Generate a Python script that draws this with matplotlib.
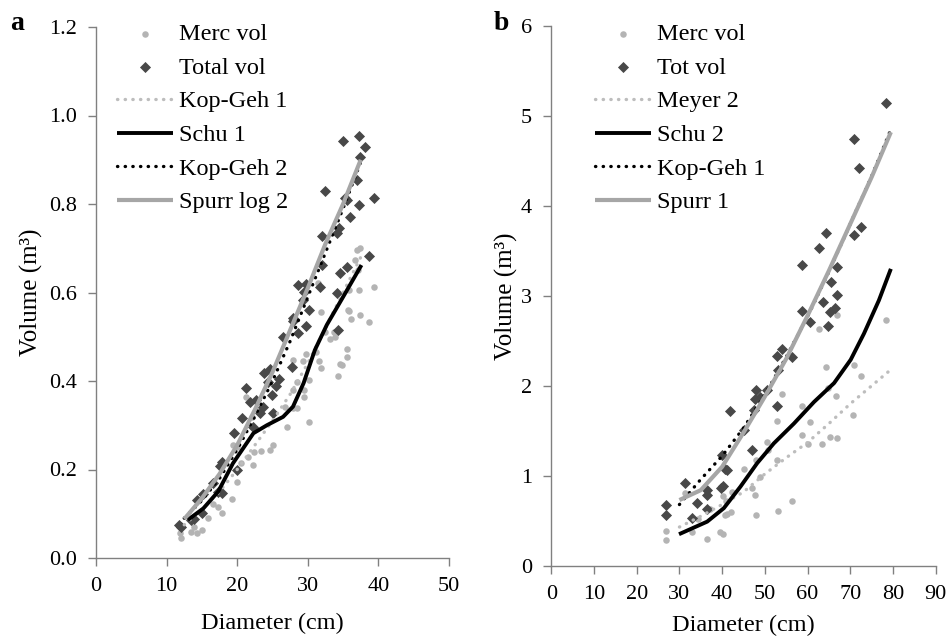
import matplotlib
matplotlib.use('Agg')
import matplotlib.pyplot as plt

plt.rcParams['font.family'] = ['Liberation Serif', 'DejaVu Serif']

# ---- panel a data ----
a_merc_d = [37.4, 37.0, 36.7, 37.1, 37.3, 39.4, 35.8, 31.5, 31.9, 35.8, 37.4, 36.1, 38.6, 32.4, 33.7,
            33.9, 33.1, 35.5, 35.6, 31.1, 27.9, 29.3, 31.6, 31.9, 34.9, 34.5, 34.3, 30.2, 28.5, 27.9,
            29.4, 29.4, 30.1, 28.5, 27.9, 26.8, 27.0, 25.1, 24.6, 23.4, 22.4, 21.6, 22.3, 20.6, 21.3,
            22.1, 23.0, 20.0, 19.3, 17.8, 17.3, 15.9, 15.0, 14.3, 13.4, 13.9, 11.9, 12.1, 16.6, 20.0,
            19.4, 35.7, 29.8]
a_merc_v = [0.700, 0.697, 0.674, 0.651, 0.606, 0.613, 0.606, 0.621, 0.557, 0.559, 0.549, 0.540, 0.534, 0.511, 0.511,
            0.499, 0.495, 0.472, 0.455, 0.466, 0.447, 0.446, 0.446, 0.430, 0.436, 0.438, 0.411, 0.402, 0.398, 0.380,
            0.380, 0.364, 0.308, 0.339, 0.339, 0.342, 0.297, 0.256, 0.244, 0.242, 0.240, 0.229, 0.210, 0.214, 0.364,
            0.319, 0.334, 0.172, 0.133, 0.101, 0.116, 0.090, 0.063, 0.056, 0.059, 0.071, 0.056, 0.045, 0.122, 0.251,
            0.256, 0.560, 0.462]

a_tot_d = [37.3, 35.0, 38.1, 37.4, 32.4, 39.4, 37.2, 36.9, 35.2, 35.6, 36.0, 32.0, 34.2, 34.4, 38.6,
           32.0, 35.5, 34.6, 34.2, 31.7, 28.6, 29.7, 29.4, 27.9, 29.3, 30.1, 27.9, 29.7, 28.6, 26.5,
           34.3, 27.8, 23.8, 24.6, 25.9, 24.3, 25.5, 21.3, 21.8, 22.7, 24.9, 23.7, 23.3, 25.1, 20.7,
           22.3, 19.6, 20.0, 17.8, 17.6, 17.9, 17.3, 14.3, 15.0, 13.9, 13.5, 12.1, 11.8, 15.1, 16.6]
a_tot_v = [0.954, 0.943, 0.929, 0.906, 0.830, 0.813, 0.798, 0.854, 0.813, 0.808, 0.771, 0.728, 0.734, 0.746, 0.683,
           0.662, 0.658, 0.644, 0.599, 0.612, 0.617, 0.619, 0.601, 0.542, 0.583, 0.560, 0.536, 0.524, 0.508, 0.499,
           0.515, 0.432, 0.419, 0.427, 0.404, 0.398, 0.389, 0.385, 0.353, 0.357, 0.368, 0.342, 0.327, 0.327, 0.316,
           0.295, 0.283, 0.199, 0.217, 0.208, 0.148, 0.150, 0.131, 0.101, 0.088, 0.086, 0.071, 0.075, 0.145, 0.169]

a_fit_d = [12.5, 15.0, 17.5, 20.0, 22.5, 25.0, 27.5, 30.0, 32.5, 35.0, 37.5]
a_kopgeh1 = [0.075, 0.11, 0.15, 0.20, 0.255, 0.31, 0.37, 0.44, 0.52, 0.60, 0.68]
a_kopgeh2 = [0.09, 0.13, 0.18, 0.245, 0.32, 0.40, 0.49, 0.59, 0.69, 0.79, 0.895]
a_spurr = [0.088, 0.135, 0.19, 0.255, 0.335, 0.42, 0.515, 0.61, 0.71, 0.80, 0.90]
a_schu_d = [13.0, 15.2, 17.3, 19.4, 22.3, 24.2, 26.5, 27.9, 29.4, 31.0, 32.7, 35.0, 37.6]
a_schu_v = [0.086, 0.112, 0.150, 0.214, 0.282, 0.300, 0.319, 0.342, 0.395, 0.470, 0.527, 0.590, 0.662]

# ---- panel b data ----
b_merc_d = [66.8, 78.3, 62.7, 70.9, 64.2, 72.4, 64.9, 66.6, 53.9, 58.6, 52.8, 60.6, 70.7, 58.8, 65.3,
            67.0, 60.2, 63.3, 50.6, 52.8, 47.9, 45.0, 48.9, 46.9, 47.7, 42.2, 40.3, 31.2, 37.2, 42.0,
            40.7, 47.9, 56.4, 53.1, 34.3, 33.0, 26.9, 26.9, 36.5, 39.5, 40.3, 50.7, 41.1, 40.9]
b_merc_v = [2.79, 2.73, 2.63, 2.23, 2.21, 2.11, 1.98, 1.89, 1.91, 1.78, 1.61, 1.60, 1.67, 1.45, 1.43,
            1.42, 1.35, 1.35, 1.37, 1.18, 1.18, 1.08, 0.99, 0.86, 0.79, 0.82, 0.77, 0.81, 0.63, 0.60,
            0.56, 0.56, 0.72, 0.61, 0.52, 0.37, 0.39, 0.29, 0.30, 0.37, 0.35, 1.29, 0.58, 0.72]

b_tot_d = [78.3, 70.9, 72.0, 72.4, 70.9, 64.2, 62.7, 58.8, 67.0, 65.6, 67.0, 63.5, 58.8, 66.4, 65.3,
           60.6, 64.9, 52.8, 53.9, 53.1, 56.4, 52.8, 47.9, 47.7, 48.9, 50.6, 41.8, 45.0, 47.1, 40.0,
           40.7, 31.2, 36.5, 36.4, 39.7, 40.3, 34.2, 36.4, 33.0, 26.9, 26.9, 47.4, 41.1]
b_tot_v = [5.14, 4.74, 4.42, 3.77, 3.68, 3.70, 3.53, 3.34, 3.32, 3.15, 3.01, 2.93, 2.83, 2.86, 2.82,
           2.71, 2.66, 2.33, 2.41, 2.18, 2.32, 1.78, 1.95, 1.85, 1.88, 1.95, 1.72, 1.51, 1.29, 1.23,
           1.07, 0.92, 0.84, 0.79, 0.86, 0.89, 0.70, 0.63, 0.53, 0.67, 0.56, 1.73, 1.06]

b_fit_d = [30.0, 35.0, 40.0, 45.0, 50.0, 55.0, 60.0, 65.0, 70.0, 75.0, 79.5]
b_meyer = [0.43, 0.55, 0.68, 0.82, 1.02, 1.20, 1.37, 1.58, 1.80, 2.00, 2.18]
b_kopgeh1 = [0.68, 0.96, 1.22, 1.53, 1.90, 2.32, 2.77, 3.27, 3.80, 4.33, 4.85]
b_spurr = [0.73, 0.84, 1.10, 1.48, 1.88, 2.30, 2.78, 3.28, 3.80, 4.32, 4.82]
b_schu_d = [29.9, 36.5, 40.4, 44.3, 48.2, 52.1, 56.8, 61.5, 66.2, 70.1, 73.2, 76.7, 79.5]
b_schu_v = [0.35, 0.49, 0.64, 0.88, 1.14, 1.36, 1.58, 1.82, 2.03, 2.29, 2.58, 2.95, 3.30]

merc_col = '#b4b4b4'
tot_col = '#484848'
spurr_col = '#a6a6a6'
dot_gray = '#bdbdbd'
axis_col = '#808080'
dots = (0, (0.1, 2.2))

fig = plt.figure(figsize=(9.48, 6.38), dpi=100)
W, H = 948, 638
ax_a = fig.add_axes([96 / W, 1 - 558 / H, 353 / W, 531 / H])
ax_b = fig.add_axes([551.3 / W, 1 - 565.7 / H, 384.4 / W, 539.7 / H])


def style_axes(ax, xpad, ypad):
	for s in ['top', 'right']:
		ax.spines[s].set_visible(False)
	for s in ['left', 'bottom']:
		ax.spines[s].set_color(axis_col)
		ax.spines[s].set_linewidth(1.0)
	ax.tick_params(direction='out', length=6, width=1.0, color=axis_col, labelsize=16)
	ax.tick_params(axis='x', pad=8)
	ax.tick_params(axis='y', pad=8)
	ax.set_xlabel('Diameter (cm)', fontsize=17.5, labelpad=xpad)
	ax.set_ylabel('Volume (m³)', fontsize=18, labelpad=ypad)


def dotted(ax, x, y, col, label):
	ax.plot(x, y, color=col, lw=2.4, linestyle=dots, dash_capstyle='round', label=label)


# panel a
ax_a.scatter(a_merc_d, a_merc_v, s=22, marker='o', color=merc_col, linewidths=0, label='Merc vol', zorder=2)
ax_a.scatter(a_tot_d, a_tot_v, s=32, marker='D', color=tot_col, linewidths=0, label='Total vol', zorder=2)
dotted(ax_a, a_fit_d, a_kopgeh1, dot_gray, 'Kop-Geh 1')
ax_a.plot(a_schu_d, a_schu_v, color='black', lw=2.8, label='Schu 1', solid_capstyle='butt')
dotted(ax_a, a_fit_d, a_kopgeh2, 'black', 'Kop-Geh 2')
ax_a.plot(a_fit_d, a_spurr, color=spurr_col, lw=3.0, label='Spurr log 2', solid_capstyle='butt')
ax_a.set_xlim(0, 50)
ax_a.set_ylim(0, 1.2)
ax_a.set_xticks(range(0, 51, 10))
ax_a.set_yticks([0, 0.2, 0.4, 0.6, 0.8, 1.0, 1.2])
ax_a.set_yticklabels(['0.0', '0.2', '0.4', '0.6', '0.8', '1.0', '1.2'])
style_axes(ax_a, 12, 4)

# panel b
ax_b.scatter(b_merc_d, b_merc_v, s=22, marker='o', color=merc_col, linewidths=0, label='Merc vol', zorder=2)
ax_b.scatter(b_tot_d, b_tot_v, s=32, marker='D', color=tot_col, linewidths=0, label='Tot vol', zorder=2)
dotted(ax_b, b_fit_d, b_meyer, dot_gray, 'Meyer 2')
ax_b.plot(b_schu_d, b_schu_v, color='black', lw=2.8, label='Schu 2', solid_capstyle='butt')
dotted(ax_b, b_fit_d, b_kopgeh1, 'black', 'Kop-Geh 1')
ax_b.plot(b_fit_d, b_spurr, color=spurr_col, lw=3.0, label='Spurr 1', solid_capstyle='butt')
ax_b.set_xlim(0, 90)
ax_b.set_ylim(0, 6)
ax_b.set_xticks(range(0, 91, 10))
ax_b.set_yticks(range(0, 7))
style_axes(ax_b, 8, 2)

for ax, x0 in [(ax_a, 117), (ax_b, 595)]:
	h, l = ax.get_legend_handles_labels()
	ax.legend(h, l, loc='upper left', bbox_to_anchor=(x0 / W, 1 - 23 / H),
	          bbox_transform=fig.transFigure, frameon=False, fontsize=17.5,
	          handlelength=2.3, handletextpad=0.25, labelspacing=0.48,
	          borderpad=0, borderaxespad=0, markerscale=1.0, scatterpoints=1)

fig.text(17 / W, 1 - 24 / H, 'a', fontsize=20, fontweight='bold', ha='center', va='center')
fig.text(501 / W, 1 - 24 / H, 'b', fontsize=20, fontweight='bold', ha='center', va='center')

fig.savefig('out.png', dpi=100)
